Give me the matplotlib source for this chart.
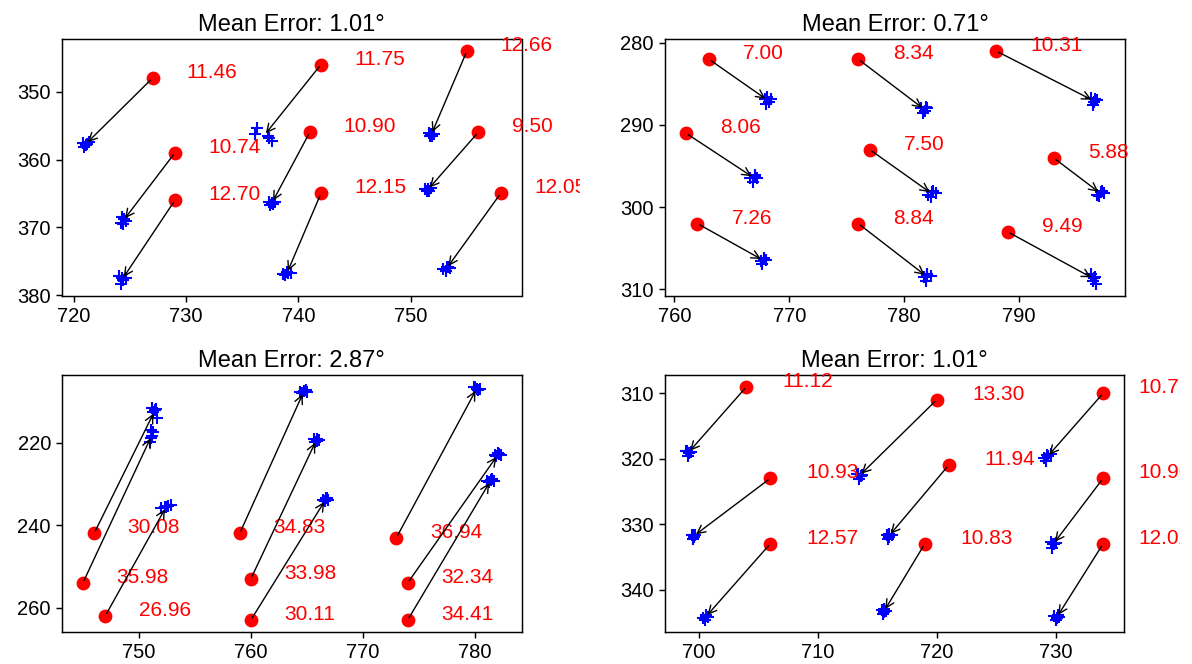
import numpy as np
import matplotlib.pyplot as plt
from matplotlib.ticker import MultipleLocator
from matplotlib.transforms import Bbox, TransformedBbox

plt.rcParams['font.family'] = ['Liberation Sans', 'DejaVu Sans']
plt.rcParams['font.size'] = 14.5
plt.rcParams['axes.linewidth'] = 1.05
plt.rcParams['xtick.major.size'] = 4.5
plt.rcParams['ytick.major.size'] = 4.5
plt.rcParams['xtick.major.width'] = 1.05
plt.rcParams['ytick.major.width'] = 1.05

# Panel titles
titles = ["Mean Error: 1.01°", "Mean Error: 0.71°", "Mean Error: 2.87°", "Mean Error: 1.01°"]

# Predicted points (red dots) and their error values
pred_1 = [(727, 348), (742, 346), (755, 344), (729, 359), (741, 356), (756, 356), (729, 366), (742, 365), (758, 365)]
err_1 = [11.46, 11.75, 12.66, 10.74, 10.90, 9.50, 12.70, 12.15, 12.05]
pred_2 = [(763, 282), (776, 282), (788, 281), (761, 291), (777, 293), (793, 294), (762, 302), (776, 302), (789, 303)]
err_2 = [7.00, 8.34, 10.31, 8.06, 7.50, 5.88, 7.26, 8.84, 9.49]
pred_3 = [(746, 242), (745, 254), (747, 262), (759, 242), (760, 253), (760, 263), (773, 243), (774, 254), (774, 263)]
err_3 = [30.08, 35.98, 26.96, 34.83, 33.98, 30.11, 36.94, 32.34, 34.41]
pred_4 = [(704, 309), (720, 311), (734, 310), (706, 323), (721, 321), (734, 323), (706, 333), (719, 333), (734, 333)]
err_4 = [11.12, 13.30, 10.75, 10.93, 11.94, 10.96, 12.57, 10.83, 12.02]

# Ground truth samples (blue crosses), one group per predicted point
true_1 = [
    [(720.8, 357.5), (721.1, 357.9), (721.3, 357.4), (720.9, 358.1), (721.2, 357.7)],
    [(736.3, 355.3), (736.1, 356.2), (737.3, 356.6), (737.6, 357.3), (737.4, 356.9)],
    [(751.6, 356.1), (751.9, 356.5), (752.1, 356.2), (751.7, 356.6), (751.8, 356.3)],
    [(724.3, 368.5), (724.6, 369.0), (724.2, 369.3), (724.5, 368.7), (724.4, 369.5)],
    [(737.4, 366.2), (737.7, 366.6), (737.9, 366.3), (737.5, 366.7), (737.6, 366.4)],
    [(751.3, 364.3), (751.6, 364.6), (751.8, 364.2), (751.4, 364.7), (751.5, 364.4)],
    [(724.0, 377.2), (724.3, 377.5), (724.6, 377.4), (724.2, 378.4), (724.4, 377.8)],
    [(738.6, 376.9), (739.0, 376.6), (739.3, 376.8), (738.8, 377.0), (739.1, 376.7)],
    [(752.9, 376.1), (753.2, 375.8), (753.5, 376.0), (753.1, 376.4), (753.3, 375.9)],
]
true_2 = [
    [(767.9, 286.8), (768.2, 287.2), (768.4, 286.9), (768.0, 287.5), (768.1, 286.6)],
    [(781.5, 287.9), (781.8, 288.3), (782.0, 288.0), (781.6, 288.6), (781.9, 287.8)],
    [(796.3, 286.7), (796.5, 287.2), (796.8, 287.0), (796.4, 287.6), (796.6, 286.9)],
    [(766.6, 296.5), (767.0, 296.1), (767.2, 296.4), (766.8, 296.9), (767.0, 296.3)],
    [(782.1, 298.5), (782.5, 298.1), (782.8, 298.3), (782.3, 298.8), (782.4, 298.2)],
    [(796.8, 298.5), (797.1, 298.2), (797.4, 298.3), (797.0, 298.6), (797.2, 298.1)],
    [(767.5, 306.6), (767.8, 306.2), (768.0, 306.4), (767.6, 306.9), (767.8, 306.3)],
    [(781.7, 308.5), (782.0, 308.1), (782.3, 308.4), (781.9, 309.0), (782.0, 308.3)],
    [(796.3, 308.1), (796.5, 308.6), (796.7, 309.4), (796.4, 309.0), (796.6, 308.5)],
]
true_3 = [
    [(751.2, 211.5), (751.4, 212.0), (751.6, 213.9), (751.3, 212.5), (751.5, 211.8)],
    [(751.1, 217.0), (751.2, 218.3), (751.0, 219.8), (751.3, 217.5), (751.1, 218.8)],
    [(752.0, 235.9), (752.3, 235.5), (752.6, 235.3), (752.9, 235.2), (752.4, 235.7)],
    [(764.4, 207.8), (764.7, 207.4), (765.0, 207.6), (764.6, 208.0), (764.9, 207.3)],
    [(765.6, 219.0), (765.9, 219.6), (766.1, 219.3), (765.7, 219.9), (765.9, 219.2)],
    [(766.4, 233.9), (766.7, 233.5), (766.9, 233.8), (766.6, 234.2), (766.8, 233.4)],
    [(779.9, 206.4), (780.2, 207.0), (780.5, 206.9), (780.0, 206.6), (780.3, 207.2)],
    [(781.8, 223.0), (782.1, 222.6), (782.3, 222.9), (781.9, 223.3), (782.2, 222.7)],
    [(781.1, 229.4), (781.4, 229.0), (781.7, 229.2), (781.3, 229.6), (781.5, 228.9)],
]
true_4 = [
    [(698.9, 318.8), (699.2, 319.2), (699.1, 319.6), (699.0, 318.9), (699.3, 319.0)],
    [(713.3, 322.3), (713.6, 322.7), (713.5, 323.1), (713.4, 322.4), (713.7, 322.5)],
    [(729.0, 319.9), (729.3, 319.5), (729.6, 319.3), (729.2, 320.3), (729.4, 319.6)],
    [(699.4, 331.6), (699.6, 332.0), (699.7, 331.7), (699.5, 332.2), (699.6, 331.6)],
    [(715.8, 331.6), (716.0, 332.0), (716.2, 331.7), (715.9, 332.3), (716.0, 331.5)],
    [(729.6, 332.7), (729.8, 333.1), (730.0, 332.9), (729.7, 333.6), (729.9, 333.0)],
    [(700.3, 344.3), (700.6, 344.0), (700.8, 344.2), (700.5, 344.6), (700.6, 343.9)],
    [(715.4, 343.1), (715.6, 343.5), (715.7, 343.3), (715.5, 343.8), (715.6, 343.0)],
    [(729.9, 344.0), (730.1, 344.4), (730.3, 344.2), (730.0, 344.7), (730.2, 343.9)],
]

panels = [(pred_1, err_1, true_1), (pred_2, err_2, true_2),
          (pred_3, err_3, true_3), (pred_4, err_4, true_4)]

# tick spacing on the y axis of each panel (x is always 10)
y_steps = [10, 10, 20, 10]

W, H = 1192, 664
fig = plt.figure(figsize=(W / 100, H / 100), dpi=100)

# axes boxes in pixels: left, top, right, bottom
boxes = [(62, 39.3, 521.5, 296), (665, 39.3, 1125, 296),
         (62, 375, 521.5, 631.7), (665, 375, 1124, 632)]

# the error labels get cut off at the edge of each column
clip_left = TransformedBbox(Bbox([[0, 0], [580 / W, 1]]), fig.transFigure)
clip_right = TransformedBbox(Bbox([[0, 0], [1180 / W, 1]]), fig.transFigure)

for i, (pred, err, true) in enumerate(panels):
    l, t, r, b = boxes[i]
    ax = fig.add_axes([l / W, 1 - b / H, (r - l) / W, (b - t) / H])
    pred = np.array(pred, dtype=float)
    for grp in true:
        g = np.array(grp)
        ax.plot(g[:, 0], g[:, 1], '+', color='blue', ms=8.5, mew=1.5)
    ax.scatter(pred[:, 0], pred[:, 1], color='red', s=80, zorder=2)
    for (px, py), e, grp in zip(pred, err, true):
        mx, my = np.array(grp).mean(axis=0)
        ax.annotate('', xy=(mx, my), xytext=(px, py),
                    arrowprops=dict(arrowstyle='->', color='black', lw=1.0))
        txt = ax.text(px + 3, py, f'{e:.2f}', color='red', fontsize=15)
        txt.set_clip_path(None)
        txt.set_clip_box(clip_left if i % 2 == 0 else clip_right)
        txt.set_clip_on(True)
    ax.invert_yaxis()
    ax.xaxis.set_major_locator(MultipleLocator(10))
    ax.yaxis.set_major_locator(MultipleLocator(y_steps[i]))
    ax.set_title(titles[i], fontsize=17)

fig.savefig('out.png', dpi=100)
